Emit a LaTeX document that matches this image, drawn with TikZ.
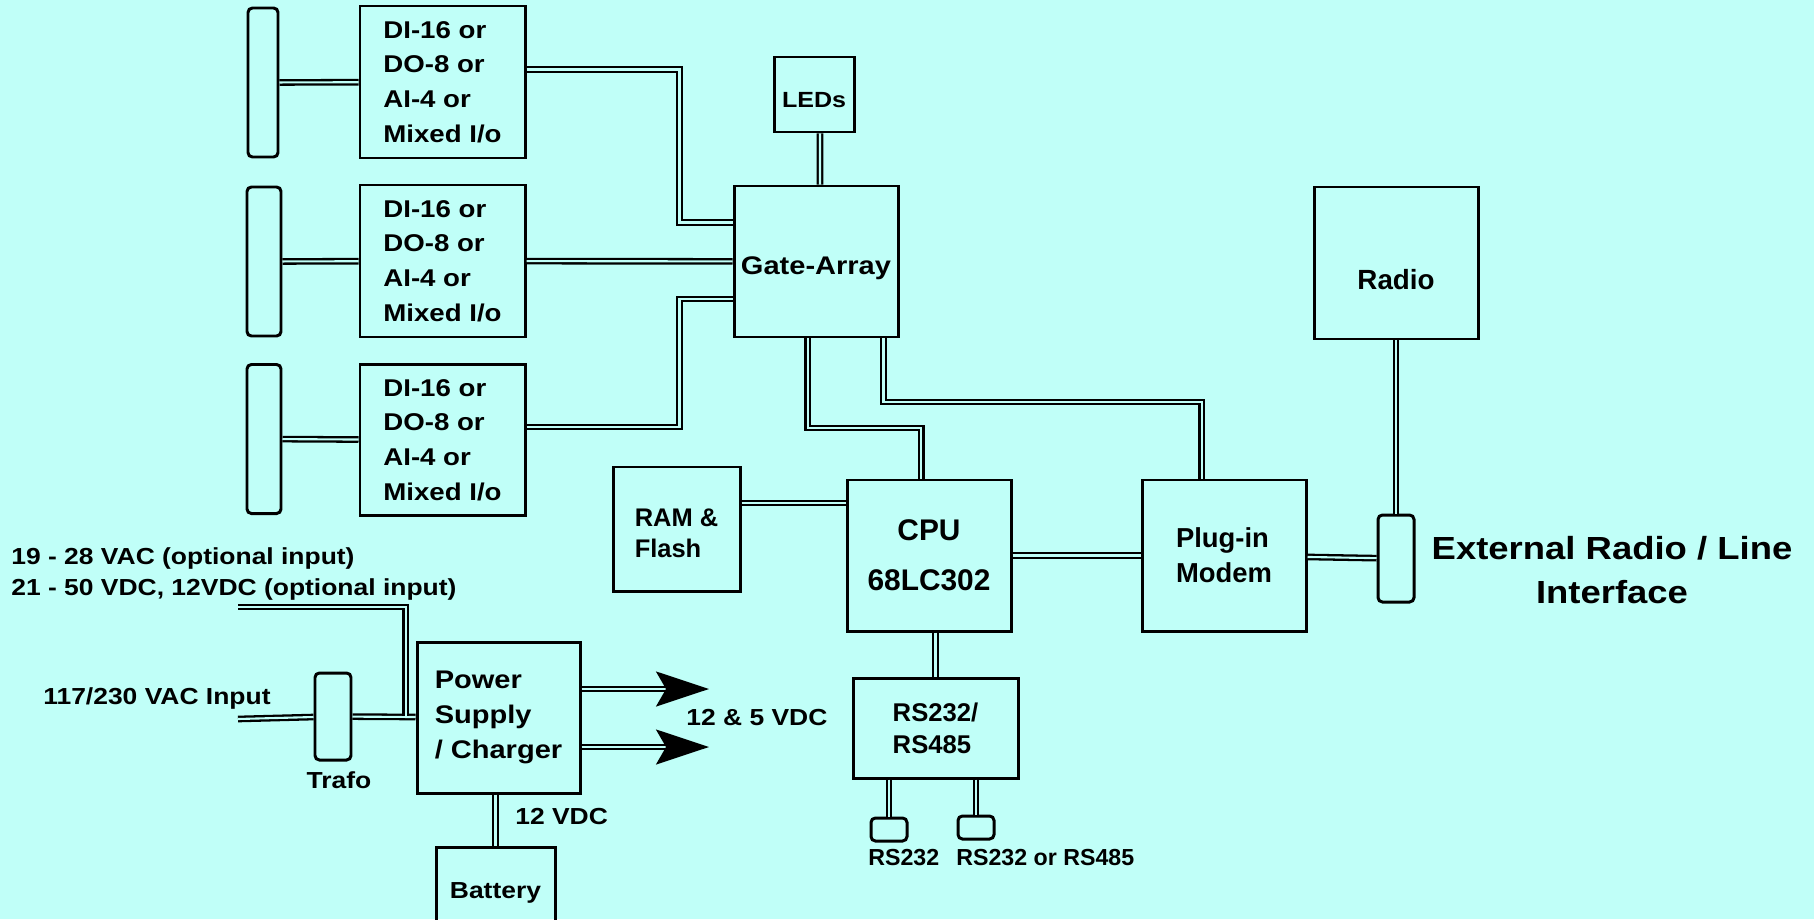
\documentclass[tikz,border=0pt]{standalone}
\usepackage{fontspec}
\setmainfont{Liberation Sans}[FakeStretch=1.14]
\newfontfamily\plainfont{Liberation Sans}
\usetikzlibrary{arrows.meta}

\definecolor{bgcyan}{RGB}{192,255,248}
\newcommand{\fsz}[2]{\fontsize{#1}{#2}\selectfont\bfseries}

\begin{document}
\begin{tikzpicture}[
    x=0.02cm, y=-0.02cm,
    wh/.style 2 args={minimum width=#1*0.02cm, minimum height=#2*0.02cm},
    box/.style={draw, line width=1.7pt, rectangle, inner sep=0pt, align=center},
    plug/.style={draw, line width=1.7pt, rectangle, rounded corners=2.5pt, inner sep=0pt},
    dbl/.style={line width=1.3pt, double=bgcyan, double distance=1.2pt},
    lbl/.style={inner sep=0pt, font=\fsz{13.2pt}{18.1pt}},
    iotxt/.style={align=left, font=\fsz{13.8pt}{19.8pt}},
    bigarrow/.style={dbl, -{Stealth[length=1.06cm, width=0.7cm, inset=0.2cm]}}
    ]

    \path[use as bounding box, fill=bgcyan] (0,0) rectangle (1814,919);

    % I/O cards with their field plugs
    \node[plug, wh={30}{149}] (bar1) at (263,82.5) {};
    \node[plug, wh={34}{149}] (bar2) at (264,261.5) {};
    \node[plug, wh={34}{149}] (bar3) at (264,439) {};
    \node[box, wh={165}{152}, iotxt] (io1) at (442.5,82) {DI-16 or\\DO-8 or\\AI-4 or\\Mixed I/o};
    \node[box, wh={165}{152}, iotxt] (io2) at (442.5,261) {DI-16 or\\DO-8 or\\AI-4 or\\Mixed I/o};
    \node[box, wh={165}{151}, iotxt] (io3) at (442.5,440) {DI-16 or\\DO-8 or\\AI-4 or\\Mixed I/o};

    \node[box, wh={80}{75}, text height=0.52cm, font=\fsz{12.5pt}{15pt}] (leds) at (814,94.5) {LEDs};
    \node[box, wh={164}{151}, text height=0.61cm, font=\fsz{14.5pt}{18pt}] (ga) at (816,261.5) {Gate-Array};

    % core
    \node[box, wh={127}{124}, align=left, text height=1.15cm, font=\plainfont\fsz{14.5pt}{17.6pt}] (ram) at (676.5,529) {RAM \&\\Flash};
    \node[box, wh={164}{151}, font=\plainfont\fsz{17pt}{28.3pt}] (cpu) at (929,555.5) {CPU\\68LC302};
    \node[box, wh={164}{151}, align=left, font=\plainfont\fsz{15.6pt}{19.8pt}] (modem) at (1224,555.5) {Plug-in\\Modem};
    \node[box, wh={164}{152}, text height=1.08cm, font=\plainfont\fsz{15.8pt}{19pt}] (radio) at (1396,263) {Radio};
    \node[plug, wh={36}{87}] (ext) at (1396,558.5) {};
    \node[inner sep=0pt, align=center, font=\fsz{18.2pt}{24.9pt}] (extxt) at (1612,570) {External Radio / Line\\Interface};

    % serial ports
    \node[box, wh={165}{100}, align=left, font=\plainfont\fsz{14.6pt}{18.1pt}] (rs) at (935.5,728) {RS232/\\RS485};
    \node[plug, wh={36}{23}] (p1) at (889,829.5) {};
    \node[plug, wh={36}{23}] (p2) at (976,827.5) {};
    \node[lbl, font=\plainfont\fsz{13.2pt}{16pt}, anchor=west] (p1txt) at (868,858) {RS232};
    \node[lbl, font=\plainfont\fsz{13.2pt}{16pt}, anchor=west] (p2txt) at (956,858) {RS232 or RS485};

    % power
    \node[plug, wh={36}{87}] (trafo) at (333,716.5) {};
    \node[box, wh={163}{151}, align=left, font=\fsz{14.5pt}{19.8pt}] (ps) at (498.5,717.5) {Power\\Supply\\/ Charger};
    \node[box, wh={119}{83}, text height=0.5cm, font=\fsz{13.2pt}{16pt}] (bat) at (495.5,888.5) {Battery};
    \node[lbl, align=left, anchor=west] (optin) at (11,574) {19 - 28 VAC (optional input)\\21 - 50 VDC, 12VDC (optional input)};
    \node[lbl, anchor=west] (acin) at (43,698) {117/230 VAC Input};
    \node[lbl] (trafotxt) at (339,780) {Trafo};
    \node[lbl, anchor=west] (dcout) at (686,718) {12 \& 5 VDC};
    \node[lbl, anchor=west] (batv) at (515,817) {12 VDC};

    % bend points
    \coordinate (b1) at (679.5,69.5);
    \coordinate (b2) at (679.5,222.5);
    \coordinate (b3) at (679.5,427);
    \coordinate (b4) at (679.5,299);
    \coordinate (c1) at (807.6,428);
    \coordinate (c2) at (921.4,428);
    \coordinate (m1) at (883.5,402);
    \coordinate (m2) at (1201.8,402);
    \coordinate (r1) at (740,503);
    \coordinate (ac) at (238,719);
    \coordinate (o1) at (238,607);
    \coordinate (o2) at (405.6,607);
    \coordinate (o3) at (405.6,716);
    \coordinate (tip1) at (709,689);
    \coordinate (tip2) at (709,747);

    \draw[dbl] (bar1) -- (io1);
    \draw[dbl] (bar2) -- (io2);
    \draw[dbl] (bar3) -- (io3);
    \draw[dbl] (io2) -- (ga);
    \draw[dbl] (io1.east |- b1) -- (b1) -- (b2) -- (ga.west |- b2);
    \draw[dbl] (io3.east |- b3) -- (b3) -- (b4) -- (ga.west |- b4);
    \draw[dbl] ([xshift=0.12cm]leds.south) -- ([xshift=0.08cm]ga.north);
    \draw[dbl] (ga.south -| c1) -- (c1) -- (c2) -- (cpu.north -| c2);
    \draw[dbl] (ga.south -| m1) -- (m1) -- (m2) -- (modem.north -| m2);
    \draw[dbl] (ram.east |- r1) -- (cpu.west |- r1);
    \draw[dbl] (cpu) -- (modem);
    \draw[dbl] (modem) -- (ext);
    \draw[dbl] (radio) -- (ext);
    \draw[dbl] (cpu.south -| rs.north) -- (rs.north);
    \draw[dbl] (rs.south -| p1.north) -- (p1.north);
    \draw[dbl] (rs.south -| p2.north) -- (p2.north);

    \draw[dbl] (ac) -- (trafo);
    \draw[dbl] (trafo) -- (ps);
    \draw[dbl] (o1) -- (o2) -- (o3);
    \draw[bigarrow] (ps.east |- tip1) -- (tip1);
    \draw[bigarrow] (ps.east |- tip2) -- (tip2);
    \draw[dbl] (ps.south -| bat.north) -- (bat.north);

\end{tikzpicture}
\end{document}
